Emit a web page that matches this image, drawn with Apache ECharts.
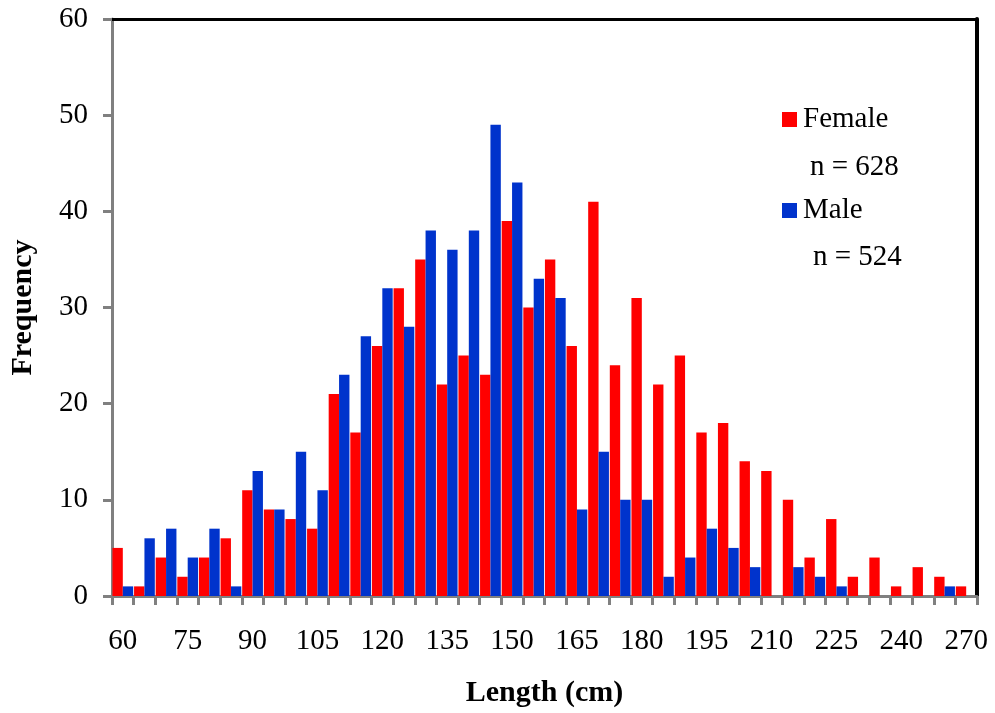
<!DOCTYPE html>
<html>
<head>
<meta charset="utf-8">
<script src="https://cdn.jsdelivr.net/npm/echarts@6/dist/echarts.min.js"></script>
<style>
html,body{margin:0;padding:0;background:#fff;}
#chart{width:995px;height:713px;}
</style>
</head>
<body>
<div id="chart"></div>
<script>
// Length classes (cm)
var categories = ['60','65','70','75','80','85','90','95','100','105','110','115','120','125','130','135','140','145','150','155','160','165','170','175','180','185','190','195','200','205','210','215','220','225','230','235','240','245','250','270'];
var femaleValues = [5,1,4,2,4,6,11,9,8,7,21,17,26,32,35,22,25,23,39,30,35,26,41,24,31,22,25,17,18,14,13,10,4,8,2,4,1,3,2,1];
var maleValues = [1,6,7,4,7,1,13,9,15,11,23,27,32,28,38,36,38,49,43,33,31,9,15,10,10,2,4,7,5,3,0,3,2,1,0,0,0,0,1,0];
var yTicks = {min: 0, max: 60, interval: 10};
var femaleN = 'n = 628';
var maleN = 'n = 524';

var FONT = '"Liberation Serif", "Times New Roman", serif';
var chart = echarts.init(document.getElementById('chart'));
chart.setOption({
  animation: false,
  backgroundColor: '#fff',
  grid: {left: 112, top: 19, right: 18, bottom: 117, show: false, containLabel: false},
  legend: [
    {data: ['Female'], left: 782, top: 105, padding: 0, itemWidth: 15, itemHeight: 15, itemGap: 0, icon: 'rect',
     textStyle: {fontFamily: FONT, fontSize: 29, color: '#000', padding: [10,0,0,1]}},
    {data: ['Male'], left: 782, top: 196, padding: 0, itemWidth: 15, itemHeight: 15, itemGap: 0, icon: 'rect',
     textStyle: {fontFamily: FONT, fontSize: 29, color: '#000', padding: [10,0,0,1]}}
  ],
  graphic: [
    {type: 'text', left: 810, top: 153, style: {text: femaleN, font: '29px ' + FONT, fill: '#000'}},
    {type: 'text', left: 813, top: 243, style: {text: maleN, font: '29px ' + FONT, fill: '#000'}}
  ],
  xAxis: [{
    type: 'category',
    data: categories,
    boundaryGap: true,
    name: 'Length (cm)',
    nameLocation: 'middle',
    nameGap: 82,
    nameTextStyle: {fontFamily: FONT, fontSize: 30, fontWeight: 'bold', color: '#000'},
    axisLine: {lineStyle: {color: '#808080', width: 3}, z: 5},
    axisTick: {show: true, interval: 0, length: 9, lineStyle: {color: '#808080', width: 3}},
    axisLabel: {interval: 2, margin: 31, fontFamily: FONT, fontSize: 29, color: '#000'},
    splitLine: {show: false}
  }, {
    type: 'category',
    data: categories,
    position: 'top',
    axisLine: {show: true, onZero: false, lineStyle: {color: '#000', width: 3}},
    axisTick: {show: false},
    axisLabel: {show: false},
    splitLine: {show: false}
  }],
  yAxis: [{
    type: 'value',
    min: yTicks.min, max: yTicks.max, interval: yTicks.interval,
    name: 'Frequency',
    nameLocation: 'middle',
    nameGap: 74,
    nameRotate: 90,
    nameTextStyle: {fontFamily: FONT, fontSize: 30, fontWeight: 'bold', color: '#000'},
    axisLine: {show: true, lineStyle: {color: '#808080', width: 3}},
    axisTick: {show: true, length: 9, lineStyle: {color: '#808080', width: 3}},
    axisLabel: {margin: 24, fontFamily: FONT, fontSize: 29, color: '#000'},
    splitLine: {show: false}
  }, {
    type: 'value',
    position: 'right',
    min: yTicks.min, max: yTicks.max, interval: yTicks.interval,
    axisLine: {show: true, onZero: false, lineStyle: {color: '#000', width: 4}},
    axisTick: {show: false},
    axisLabel: {show: false},
    splitLine: {show: false}
  }],
  series: [
    {name: 'Female', type: 'bar', data: femaleValues, barGap: '0%', barCategoryGap: '4%',
     xAxisIndex: 0, yAxisIndex: 0, itemStyle: {color: '#FF0000'}},
    {name: 'Male', type: 'bar', data: maleValues, barGap: '0%', barCategoryGap: '4%',
     xAxisIndex: 0, yAxisIndex: 0, itemStyle: {color: '#0033CC'}}
  ]
});
</script>
</body>
</html>
